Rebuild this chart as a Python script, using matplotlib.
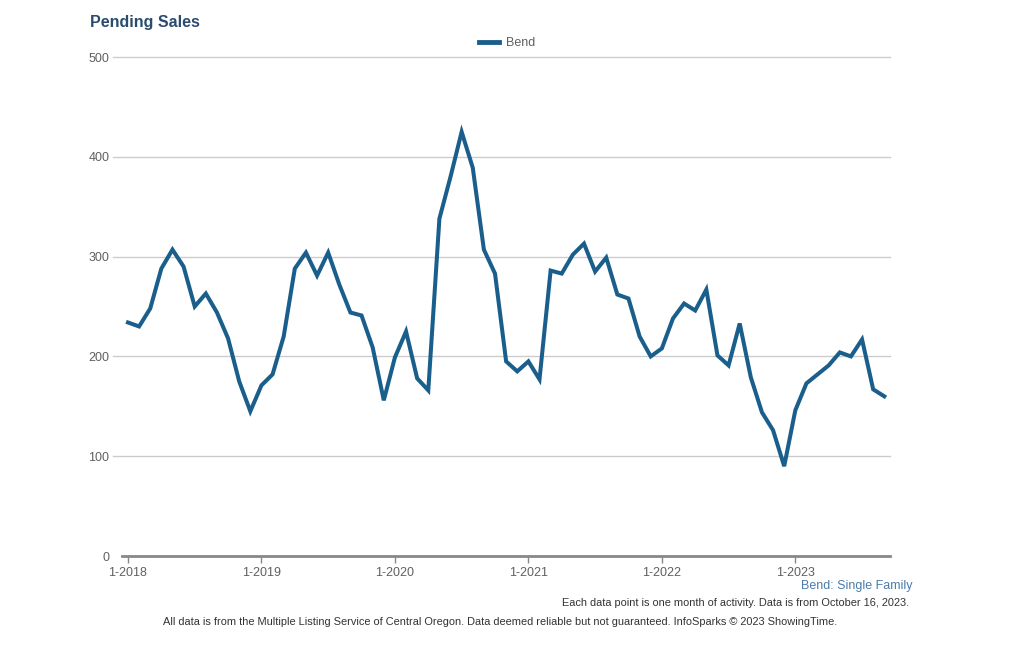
import numpy as np
import matplotlib.pyplot as plt
from matplotlib.lines import Line2D

plt.rcParams['font.family'] = ['Liberation Sans', 'DejaVu Sans']

# Monthly pending sales, Bend single family, 1-2018 .. 9-2023
pending = [
    234, 230, 248, 288, 307, 290, 250, 263, 244, 218, 175, 145,   # 2018
    171, 182, 220, 288, 304, 281, 304, 272, 244, 241, 209, 156,   # 2019
    199, 225, 178, 166, 338, 380, 425, 389, 307, 283, 195, 185,   # 2020
    195, 177, 286, 283, 302, 313, 285, 299, 262, 258, 220, 200,   # 2021
    208, 238, 253, 246, 267, 201, 191, 233, 179, 144, 126, 90,    # 2022
    146, 173, 182, 191, 204, 200, 217, 167, 160,                  # 2023
]
year_labels = ["1-2018", "1-2019", "1-2020", "1-2021", "1-2022", "1-2023"]
y_ticks = [0, 100, 200, 300, 400, 500]

months = np.arange(len(pending))
line_color = "#1a5f8c"
text_gray = "#606060"

fig = plt.figure(figsize=(10.24, 6.5), dpi=100)
ax = fig.add_axes([0.119, 0.1446, 0.750, 0.7677])

# gridlines (extend a little to the left of the axis)
for v in y_ticks[1:]:
    ax.plot([-0.012, 1], [v / 500, v / 500], transform=ax.transAxes,
            color="#cccccc", lw=1.0, clip_on=False, zorder=0)

ax.plot(months, pending, color=line_color, lw=2.9, solid_joinstyle="miter", zorder=3)

ax.set_xlim(-0.55, len(pending) - 0.5)
ax.set_ylim(0, 500)
ax.set_xticks(np.arange(0, len(pending), 12))
ax.set_xticklabels(year_labels)
ax.set_yticks(y_ticks)

for s in ["top", "right", "left"]:
    ax.spines[s].set_visible(False)
ax.spines["bottom"].set_color("#888888")
ax.spines["bottom"].set_linewidth(2)
ax.tick_params(axis="y", length=0, pad=9, labelsize=9, labelcolor=text_gray)
ax.tick_params(axis="x", length=5, width=1, color="#888888", pad=3,
               labelsize=9, labelcolor=text_gray)

fig.text(0.088, 0.966, "Pending Sales", fontsize=11.5, fontweight="bold",
         color="#2b4c6f", va="center", ha="left")

handle = Line2D([], [], color=line_color, lw=3.5)
fig.legend([handle], ["Bend"], loc="center", bbox_to_anchor=(0.495, 0.934),
           frameon=False, fontsize=9, handlelength=1.6, handletextpad=0.6,
           labelcolor=text_gray)

fig.text(0.891, 0.099, "Bend: Single Family", fontsize=9, color="#4a7cac",
         ha="right", va="center")
fig.text(0.888, 0.072, "Each data point is one month of activity. Data is from October 16, 2023.",
         fontsize=7.9, color="#333333", ha="right", va="center")
fig.text(0.488, 0.043, "All data is from the Multiple Listing Service of Central Oregon. "
         "Data deemed reliable but not guaranteed. InfoSparks \u00a9 2023 ShowingTime.",
         fontsize=7.9, color="#333333", ha="center", va="center")

fig.savefig("out.png", dpi=100)
